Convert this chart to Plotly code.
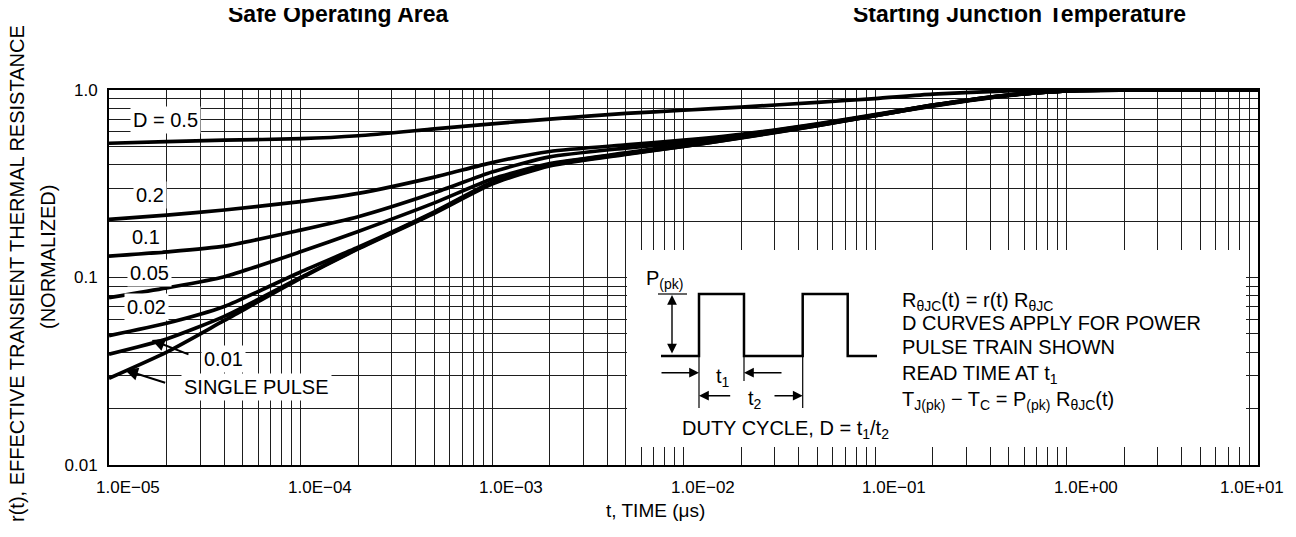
import numpy as np
import plotly.graph_objects as go

# ---------------- data ----------------
t_us = [1e-5, 2e-5, 4e-5, 1e-4, 2e-4, 5e-4, 1e-3, 2e-3, 5e-3, 1e-2, 2e-2, 5e-2,
        1e-1, 2e-1, 5e-1, 1.0, 2.0, 5.0, 10.0]

r_d050 = [0.52, 0.53, 0.54, 0.55, 0.57, 0.62, 0.66, 0.70, 0.75, 0.78, 0.81, 0.86,
          0.90, 0.95, 0.99, 1.0, 1.0, 1.0, 1.0]
r_d020 = [0.204, 0.215, 0.229, 0.254, 0.281, 0.343, 0.41, 0.47, 0.51, 0.54, 0.58, 0.66,
          0.74, 0.83, 0.94, 0.99, 1.0, 1.0, 1.0]
r_d010 = [0.130, 0.137, 0.147, 0.179, 0.211, 0.283, 0.365, 0.44, 0.49, 0.525, 0.575, 0.655,
          0.735, 0.83, 0.94, 0.99, 1.0, 1.0, 1.0]
r_d005 = [0.078, 0.088, 0.101, 0.137, 0.176, 0.250, 0.335, 0.405, 0.462, 0.51, 0.565, 0.65,
          0.735, 0.83, 0.94, 0.99, 1.0, 1.0, 1.0]
r_d002 = [0.049, 0.057, 0.070, 0.107, 0.145, 0.224, 0.322, 0.40, 0.458, 0.505, 0.56, 0.65,
          0.73, 0.825, 0.94, 0.99, 1.0, 1.0, 1.0]
r_d001 = [0.039, 0.047, 0.062, 0.100, 0.143, 0.222, 0.318, 0.397, 0.456, 0.50, 0.557, 0.645,
          0.73, 0.825, 0.935, 0.99, 1.0, 1.0, 1.0]
r_single = [0.029, 0.040, 0.059, 0.099, 0.142, 0.220, 0.315, 0.394, 0.454, 0.50, 0.555, 0.645,
            0.73, 0.82, 0.935, 0.99, 1.0, 1.0, 1.0]

series = [r_d050, r_d020, r_d010, r_d005, r_d002, r_d001, r_single]

x_decades = [1e-5, 1e-4, 1e-3, 1e-2, 1e-1, 1.0, 10.0]
x_tick_labels = ["1.0E\u221205", "1.0E\u221204", "1.0E\u221203", "1.0E\u221202",
                 "1.0E\u221201", "1.0E+00", "1.0E+01"]
y_decades = [0.01, 0.1, 1.0]
y_tick_labels = ["0.01", "0.1", "1.0"]

curve_labels = ["D = 0.5", "0.2", "0.1", "0.05", "0.02", "0.01", "SINGLE PULSE"]

FONT = "Arial, Liberation Sans, Helvetica, sans-serif"

# ---------------- geometry (screen pixels; page body has 8px margin) ----------------
OFF = 8
W, H = 1280, 520
L, R, T, B = 109, 1258, 90, 465          # plot area on screen


def px(x):
    return (x - L) / (R - L)


def py(y):
    return (B - y) / (B - T)


# gridline positions (every 1..9 in each decade)
x_grid = [m * 10.0 ** e for e in range(-5, 1) for m in range(1, 10)] + [10.0]
y_grid = [m * 10.0 ** e for e in range(-2, 0) for m in range(1, 10)] + [1.0]
y_text = []
for g in y_grid:
    g = round(g, 10)
    y_text.append(y_tick_labels[y_decades.index(g)] if g in y_decades else "")

fig = go.Figure()
for s in series:
    fig.add_trace(go.Scatter(x=t_us, y=s, mode="lines",
                             line=dict(color="black", width=3.7, shape="spline", smoothing=0.6),
                             showlegend=False, hoverinfo="skip"))

axis_common = dict(type="log", showgrid=True, gridcolor="#1e1e1e", gridwidth=1,
                   showline=True, linecolor="black", linewidth=2, mirror=True,
                   ticks="", zeroline=False)

fig.update_xaxes(range=[-5, 1], tickvals=x_grid, showticklabels=False, **axis_common)
fig.update_yaxes(range=[-2, 0], tickvals=y_grid, ticktext=y_text,
                 tickfont=dict(family=FONT, size=17, color="black"),
                 ticklabelstandoff=6, **axis_common)

ann = []


def text_ann(xp, yp, text, size=20, xanchor="center", yanchor="middle", **kw):
    d = dict(x=px(xp), y=py(yp), xref="paper", yref="paper", text=text,
             showarrow=False, xanchor=xanchor, yanchor=yanchor,
             font=dict(family=FONT, size=size, color="black"))
    d.update(kw)
    return d


def arrow_ann(hx, hy, tx, ty, **kw):
    d = dict(x=px(hx), y=py(hy), xref="paper", yref="paper", text="",
             showarrow=True, ax=tx - hx, ay=ty - hy, arrowhead=2,
             arrowsize=1.4, arrowwidth=1.4, arrowcolor="black", standoff=0,
             xanchor="center", yanchor="middle")
    d.update(kw)
    return d


# x tick labels (offset as in the reference)
for i, (v, lab) in enumerate(zip(x_decades, x_tick_labels)):
    ann.append(dict(x=np.log10(v), xref="x", y=0, yref="paper", text=lab,
                    showarrow=False, yanchor="middle", xanchor="center",
                    yshift=-22, xshift=(19 if i < len(x_decades) - 1 else -6),
                    font=dict(family=FONT, size=17, color="black")))

# curve labels
label_pos = [(165, 120), (149.5, 195), (146, 237), (149, 273), (146, 307), (223.5, 359), (256, 387)]
for lab, (xp, yp) in zip(curve_labels, label_pos):
    ann.append(text_ann(xp, yp, lab, bgcolor="white", borderpad=2))

# pointer arrows to 0.01 and single pulse curves
ann.append(arrow_ann(151.7, 340, 190, 355, arrowsize=1.3, arrowwidth=2))
ann.append(arrow_ann(125, 370, 166.7, 383.3, arrowsize=1.3, arrowwidth=2))

# titles (partly cut off by the top edge, as in the reference)
ann.append(text_ann(338, 14, "<b>Safe Operating Area</b>", size=23))
ann.append(text_ann(1019, 14, "<b>Starting Junction Temperature</b>", size=23))

# axis titles
ann.append(text_ann(17, 274, "r(t), EFFECTIVE TRANSIENT THERMAL RESISTANCE", textangle=-90))
ann.append(text_ann(48, 257, "(NORMALIZED)", textangle=-90))
ann.append(text_ann(655, 510, "t, TIME (\u03bcs)", size=19))

# ---------------- inset ----------------
shapes = []
shapes.append(dict(type="rect", xref="paper", yref="paper", x0=px(627), x1=px(1246),
                   y0=py(447), y1=py(250), fillcolor="white", line=dict(width=0),
                   layer="above"))

wave = [(661, 356), (699, 356), (699, 294), (744, 294), (744, 356), (802.7, 356),
        (802.7, 294), (847.7, 294), (847.7, 356), (877, 356)]
path = "M " + " L ".join(f"{px(a):.5f},{py(b):.5f}" for a, b in wave)
shapes.append(dict(type="path", xref="paper", yref="paper", path=path,
                   line=dict(color="black", width=2.5), layer="above"))

for (x0, y0, x1, y1) in [(658, 294, 687, 294), (699, 356, 699, 408),
                         (744, 356, 744, 381), (802.7, 356, 802.7, 408)]:
    shapes.append(dict(type="line", xref="paper", yref="paper", x0=px(x0), y0=py(y0),
                       x1=px(x1), y1=py(y1), line=dict(color="black", width=1.2),
                       layer="above"))

# arrows in the inset (head, tail)
for (hx, hy, tx, ty) in [(699, 372.7, 660, 372.7), (744, 372.7, 783, 372.7),
                         (699, 395.7, 731.7, 395.7), (802.7, 395.7, 773, 395.7)]:
    ann.append(arrow_ann(hx, hy, tx, ty))
ann.append(arrow_ann(672, 295, 672, 355, arrowside="end+start", startstandoff=0))

ann.append(text_ann(644, 279, "P<sub>(pk)</sub>", xanchor="left"))
ann.append(text_ann(723, 377, "t<sub>1</sub>"))
ann.append(text_ann(755, 399, "t<sub>2</sub>"))
ann.append(text_ann(680, 429, "DUTY CYCLE, D = t<sub>1</sub>/t<sub>2</sub>", xanchor="left"))

inset_lines = ["R<sub>\u03b8JC</sub>(t) = r(t) R<sub>\u03b8JC</sub>",
               "D CURVES APPLY FOR POWER",
               "PULSE TRAIN SHOWN",
               "READ TIME AT t<sub>1</sub>",
               "T<sub>J(pk)</sub> \u2212 T<sub>C</sub> = P<sub>(pk)</sub> R<sub>\u03b8JC</sub>(t)"]
inset_y = [301, 322.7, 347.3, 374, 400]
for txt, yy in zip(inset_lines, inset_y):
    ann.append(text_ann(900, yy, txt, xanchor="left"))

fig.update_layout(width=W, height=H,
                  margin=dict(l=L - OFF, r=W + OFF - R, t=T - OFF, b=H + OFF - B),
                  paper_bgcolor="white", plot_bgcolor="white",
                  annotations=ann, shapes=shapes,
                  font=dict(family=FONT, color="black"))

fig.write_html("out.html")
